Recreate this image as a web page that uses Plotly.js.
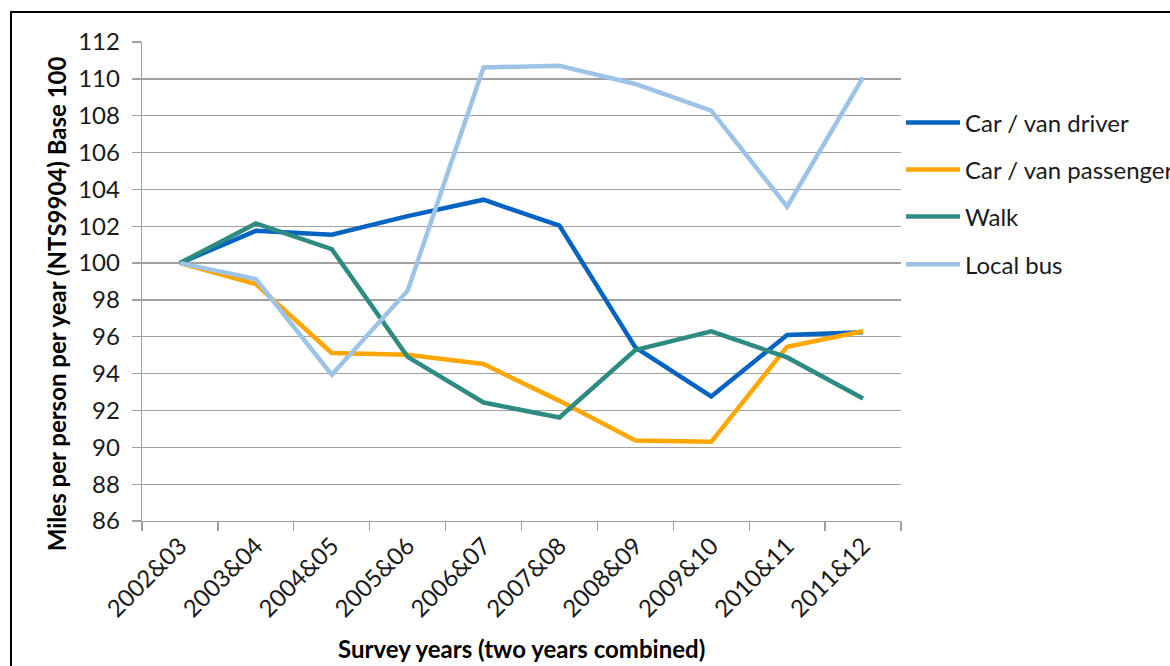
<!DOCTYPE html>
<html>
<head>
<meta charset="utf-8">
<script src="https://cdn.plot.ly/plotly-3.0.1.min.js"></script>
<style>
  html, body { margin: 0; padding: 0; background: #fff; overflow: hidden; }
  #chart { width: 1170px; height: 666px; position: absolute; left: 0; top: 0; }
  #frame {
    position: absolute; left: 10px; top: 11px; width: 1200px; height: 700px;
    border: 2px solid #000; pointer-events: none;
  }
</style>
</head>
<body>
<div id="chart"></div>
<div id="frame"></div>
<script>
// Survey years (two years combined)
const categories = ['2002&03', '2003&04', '2004&05', '2005&06', '2006&07',
                    '2007&08', '2008&09', '2009&10', '2010&11', '2011&12'];

// Miles per person per year, indexed to 2002&03 = 100
const carVanDriver    = [100, 101.75, 101.54, 102.55, 103.44, 102.03, 95.42, 92.76, 96.10, 96.25];
const carVanPassenger = [100, 98.86, 95.12, 95.02, 94.52, 92.52, 90.37, 90.30, 95.46, 96.30];
const walk            = [100, 102.15, 100.76, 94.91, 92.43, 91.62, 95.28, 96.29, 94.88, 92.65];
const localBus        = [100, 99.13, 93.94, 98.50, 110.62, 110.71, 109.72, 108.27, 103.06, 110.08];

const seriesNames  = ['Car / van driver', 'Car / van passenger', 'Walk', 'Local bus'];
const seriesValues = [carVanDriver, carVanPassenger, walk, localBus];
const seriesColors = ['#0563C1', '#FFA600', '#2E8B82', '#9DC3E6'];

const xTitle = 'Survey years (two years combined)';
const yTitle = 'Miles per person per year (NTS9904) Base 100';

const FONT = 'Lato, "Open Sans", "Liberation Sans", sans-serif';

const traces = seriesValues.map((vals, i) => ({
  type: 'scatter',
  mode: 'lines',
  name: seriesNames[i],
  x: categories,
  y: vals,
  line: { color: seriesColors[i], width: 4.5 },
  legend: i === 0 ? 'legend' : 'legend' + (i + 1),
  hoverinfo: 'x+y+name'
}));

// one legend box per series so the entries get the wide vertical spacing
function legendAt(y) {
  return {
    x: 1.0, xanchor: 'left', y: y, yanchor: 'middle',
    bgcolor: 'rgba(0,0,0,0)', borderwidth: 0,
    font: { family: FONT, size: 24, color: '#1a1a1a' },
    itemwidth: 54
  };
}

const layout = {
  width: 1170,
  height: 666,
  margin: { l: 142, r: 269, t: 42, b: 145, autoexpand: false },
  paper_bgcolor: '#ffffff',
  plot_bgcolor: '#ffffff',
  font: { family: FONT, size: 21, color: '#1a1a1a' },
  showlegend: true,
  legend: legendAt(0.831),
  legend2: legendAt(0.733),
  legend3: legendAt(0.635),
  legend4: legendAt(0.535),
  xaxis: {
    type: 'category',
    range: [-0.5, categories.length - 0.5],
    tickangle: -45,
    tickson: 'boundaries',
    ticks: 'outside',
    ticklen: 9,
    tickcolor: '#A0A0A0',
    tickwidth: 1.3,
    showgrid: false,
    showline: true,
    linecolor: '#A0A0A0',
    linewidth: 1.3,
    zeroline: false,
    tickfont: { family: FONT, size: 24, color: '#1a1a1a' }
  },
  yaxis: {
    range: [86, 112],
    dtick: 2,
    tick0: 86,
    ticks: 'outside',
    ticklen: 9,
    tickcolor: '#A0A0A0',
    tickwidth: 1.3,
    ticklabelstandoff: 7,
    showgrid: true,
    gridcolor: '#A0A0A0',
    gridwidth: 1.3,
    showline: true,
    linecolor: '#A0A0A0',
    linewidth: 1.3,
    zeroline: false,
    tickfont: { family: FONT, size: 24, color: '#1a1a1a' }
  },
  annotations: [
    {
      text: '<b>' + xTitle + '</b>',
      xref: 'paper', yref: 'paper', x: 0.5, y: -0.3,
      xanchor: 'center', yanchor: 'bottom', showarrow: false,
      font: { family: FONT, size: 24, color: '#000' }
    },
    {
      text: '<b>' + yTitle + '</b>',
      xref: 'paper', yref: 'paper', x: -0.113, y: 0.453,
      xanchor: 'center', yanchor: 'middle', showarrow: false, textangle: -90,
      font: { family: FONT, size: 24, color: '#000' }
    }
  ]
};

Plotly.newPlot('chart', traces, layout, { displayModeBar: false, staticPlot: true });
</script>
</body>
</html>
